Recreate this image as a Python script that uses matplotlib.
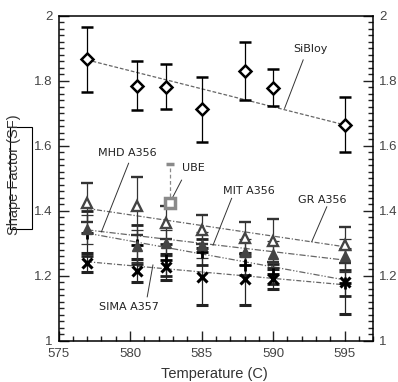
import numpy as np
import matplotlib as mpl
mpl.use('Agg')
import matplotlib.pyplot as plt
from matplotlib.patches import Rectangle
from matplotlib.ticker import MultipleLocator

# Temperatures where the shape factor was measured
temps = [577, 580.5, 582.5, 585, 588, 590, 595]

# Shape factor per process, with error bar half widths
sibloy = [1.866, 1.785, 1.782, 1.712, 1.830, 1.778, 1.665]
sibloy_err = [0.10, 0.075, 0.07, 0.10, 0.088, 0.057, 0.085]
gr = [1.425, 1.415, 1.363, 1.342, 1.316, 1.308, 1.295]
gr_err = [0.06, 0.09, 0.05, 0.045, 0.048, 0.066, 0.055]
mit = [1.343, 1.292, 1.300, 1.294, 1.274, 1.268, 1.262]
mit_err = [0.045, 0.05, 0.04, 0.04, 0.04, 0.04, 0.05]
mhd = [1.330, 1.295, 1.248, 1.273, 1.232, 1.205, 1.178]
mhd_err = [0.07, 0.06, 0.05, 0.04, 0.03, 0.03, 0.04]
sima = [1.240, 1.215, 1.226, 1.197, 1.190, 1.190, 1.182]
sima_err = [0.03, 0.035, 0.04, 0.087, 0.08, 0.03, 0.10]

# Single UBE point (upper error only)
ube_temp = [582.8]
ube = [1.425]
ube_err = [0.12]

# Trend line end values (at 577 and 595)
trend_x = [577, 595]
sibloy_trend = [1.864, 1.664]
gr_trend = [1.407, 1.289]
mit_trend = [1.341, 1.248]
mhd_trend = [1.331, 1.187]
sima_trend = [1.243, 1.172]

plt.rcParams['font.family'] = ['Liberation Sans', 'DejaVu Sans']

fig = plt.figure(figsize=(3.98, 3.82), dpi=100)
ax = fig.add_axes([58.5/398, 1 - 340.7/382, (373.3 - 58.5)/398, (340.7 - 15.7)/382])

LINE = '#666666'
ax.plot(trend_x, sibloy_trend, color=LINE, lw=0.9, ls=(0, (3, 1.5)))
ax.plot(trend_x, gr_trend, color=LINE, lw=0.9, ls=(0, (4, 1.5, 1, 1.5)))
ax.plot(trend_x, mit_trend, color=LINE, lw=0.9, ls=(0, (5, 1.5, 1, 1.5)))
ax.plot(trend_x, mhd_trend, color=LINE, lw=0.9, ls=(0, (5, 1.5, 1, 1.5, 1, 1.5)))
ax.plot(trend_x, sima_trend, color=LINE, lw=0.9, ls=(0, (4, 1.5, 1, 1.5)))

eb = dict(ls='none', elinewidth=0.9, capsize=4.3, capthick=0.9)
ax.errorbar(temps, sima, yerr=sima_err, fmt='x', color='black', ecolor='#222222',
            ms=7, mew=2.2, **eb)
ax.errorbar(temps, mhd, yerr=mhd_err, fmt='+', color='black', ecolor='#222222',
            ms=9, mew=2.0, **eb)
ax.errorbar(temps, mit, yerr=mit_err, fmt='^', color='#444444', ecolor='#333333',
            ms=7.5, **eb)
ax.errorbar(temps, gr, yerr=gr_err, fmt='^', mfc='white', mec='#444444', mew=1.7,
            ecolor='#333333', ms=7.5, **eb)
ax.errorbar(temps, sibloy, yerr=sibloy_err, fmt='D', mfc='white', mec='black',
            mew=1.8, ecolor='black', ms=6, **eb)

# UBE point with a dashed upper bar
ube_eb = ax.errorbar(ube_temp, ube, yerr=[[0], ube_err], fmt='s', mfc='white',
                     mec='#8a8a8a', mew=2.5, ms=7.5, ecolor='#8a8a8a',
                     elinewidth=0.9, capsize=3, capthick=0.9, ls='none')
ube_eb[2][0].set_linestyle((0, (3, 2)))

# Labels with leader lines
notes = [
    ('SiBloy', 592.6, 1.897, (592.1, 1.864), (590.8, 1.715)),
    ('MHD A356', 579.8, 1.578, (579.9, 1.546), (578.0, 1.335)),
    ('UBE', 584.4, 1.531, (583.6, 1.494), (583.0, 1.443)),
    ('MIT A356', 588.3, 1.461, (587.1, 1.438), (585.8, 1.294)),
    ('GR A356', 593.4, 1.433, (593.75, 1.412), (592.7, 1.305)),
    ('SIMA A357', 579.9, 1.105, (581.2, 1.135), (581.6, 1.233)),
]
for label, tx, ty, p0, p1 in notes:
    ax.text(tx, ty, label, ha='center', va='center', fontsize=8,
            family='DejaVu Sans', color='#222222')
    ax.plot([p0[0], p1[0]], [p0[1], p1[1]], color='#333333', lw=0.7)

ax.set_xlim(575, 597)
ax.set_ylim(1, 2)
ax.xaxis.set_major_locator(MultipleLocator(5))
ax.xaxis.set_minor_locator(MultipleLocator(1))
ax.yaxis.set_major_locator(MultipleLocator(0.2))
ax.yaxis.set_minor_locator(MultipleLocator(0.02))
ax.yaxis.set_major_formatter(mpl.ticker.FuncFormatter(lambda v, p: '%g' % round(v, 2)))

ax.tick_params(which='both', direction='in', top=False, right=True,
               labelright=True, colors='#222222', labelcolor='#444444',
               labelsize=9.5)
ax.tick_params(which='major', length=7, width=1)
ax.tick_params(which='minor', length=3.6, width=1)
ax.tick_params(axis='x', pad=5)
ax.tick_params(axis='y', pad=4)
for s in ax.spines.values():
    s.set_linewidth(1.1)

fig.text(214/398, 1 - 374/382, 'Temperature (C)', ha='center', va='center',
         fontsize=10.5, color='#333333')
fig.text(14/398, 1 - 175/382, 'Shape Factor (SF)', ha='center', va='center',
         rotation=90, fontsize=10.5, color='#333333')
fig.add_artist(Rectangle((10/398, 1 - 229/382), 22/398, 102/382,
                         transform=fig.transFigure, fill=False,
                         edgecolor='black', lw=0.8))

fig.savefig('out.png', dpi=100)
